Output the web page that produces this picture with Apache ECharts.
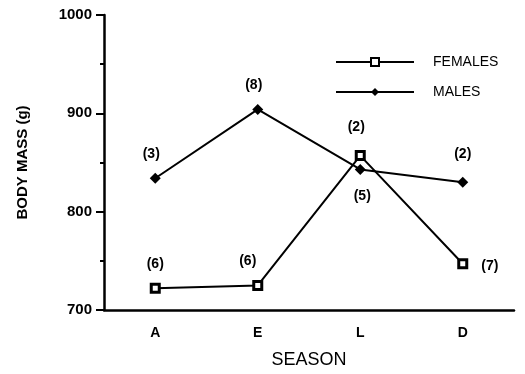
<!DOCTYPE html>
<html><head><meta charset="utf-8">
<script src="https://cdn.jsdelivr.net/npm/echarts@6/dist/echarts.min.js"></script>
<style>html,body{margin:0;padding:0;background:#fff}#c{width:525px;height:374px}</style>
</head><body><div id="c"></div>
<script>
const seasons = ['A', 'E', 'L', 'D'];
const females = [722, 725, 857, 747];
const males = [834, 904, 843, 830];
const femaleN = ['(6)', '(6)', '(2)', '(7)'];
const maleN = ['(3)', '(8)', '(5)', '(2)'];
const femaleLabelPos = ['top', 'top', 'top', 'right'];
const maleLabelPos = ['top', 'top', 'bottom', 'top'];
const femaleLabelOffset = [[0, 0], [-10, 0], [-4, -4], [1, 2]];
const maleLabelOffset = [[-4, 0], [-4, 0], [2, 2], [0, -4]];
const yTicks = [700, 800, 900, 1000];

const font = 'Liberation Sans, Arial, sans-serif';
function mk(vals, ns, pos, off) {
  return vals.map((v, i) => ({
    value: v,
    label: {show: true, formatter: ns[i], position: pos[i], offset: off[i], distance: 12,
      color: '#000', fontFamily: font, fontSize: 14, fontWeight: 'bold'}
  }));
}
const chart = echarts.init(document.getElementById('c'));
chart.setOption({
  animation: false,
  backgroundColor: '#fff',
  grid: {left: 104, right: 11, top: 15, bottom: 62},
  legend: {
    left: 330, top: 50, orient: 'vertical', itemGap: 16, itemWidth: 78, itemHeight: 10,
    textStyle: {fontFamily: font, fontSize: 14, color: '#000', padding: [0, 0, 0, 14]},
    data: ['FEMALES', 'MALES']
  },
  xAxis: {
    type: 'category', data: seasons,
    name: 'SEASON', nameLocation: 'middle', nameGap: 41,
    nameTextStyle: {fontFamily: font, fontSize: 18, color: '#000'},
    axisLine: {lineStyle: {color: '#000', width: 2.5}},
    axisTick: {alignWithLabel: true, length: 5, lineStyle: {width: 2, color: '#000'}},
    axisLabel: {fontFamily: font, fontSize: 14, fontWeight: 'bold', color: '#000', margin: 16}
  },
  yAxis: {
    type: 'value', min: yTicks[0], max: yTicks[yTicks.length - 1], interval: 100,
    name: 'BODY MASS (g)', nameLocation: 'middle', nameGap: 74,
    nameTextStyle: {fontFamily: font, fontSize: 15, fontWeight: 'bold', color: '#000'},
    axisLine: {show: true, lineStyle: {color: '#000', width: 2.5}},
    axisTick: {show: true, length: 8, lineStyle: {width: 2, color: '#000'}},
    minorTick: {show: true, splitNumber: 2, length: 4, lineStyle: {width: 2, color: '#000'}},
    splitLine: {show: false},
    axisLabel: {fontFamily: font, fontSize: 15, fontWeight: 'bold', color: '#000', margin: 12,
      formatter: v => String(v)}
  },
  series: [
    {name: 'FEMALES', type: 'line', data: mk(females, femaleN, femaleLabelPos, femaleLabelOffset),
      symbol: 'rect', symbolSize: 8,
      lineStyle: {color: '#000', width: 2},
      itemStyle: {color: '#fff', borderColor: '#000', borderWidth: 3}},
    {name: 'MALES', type: 'line', data: mk(males, maleN, maleLabelPos, maleLabelOffset),
      symbol: 'diamond', symbolSize: 11,
      lineStyle: {color: '#000', width: 2},
      itemStyle: {color: '#000', borderColor: '#000', borderWidth: 0}}
  ]
});
</script></body></html>
